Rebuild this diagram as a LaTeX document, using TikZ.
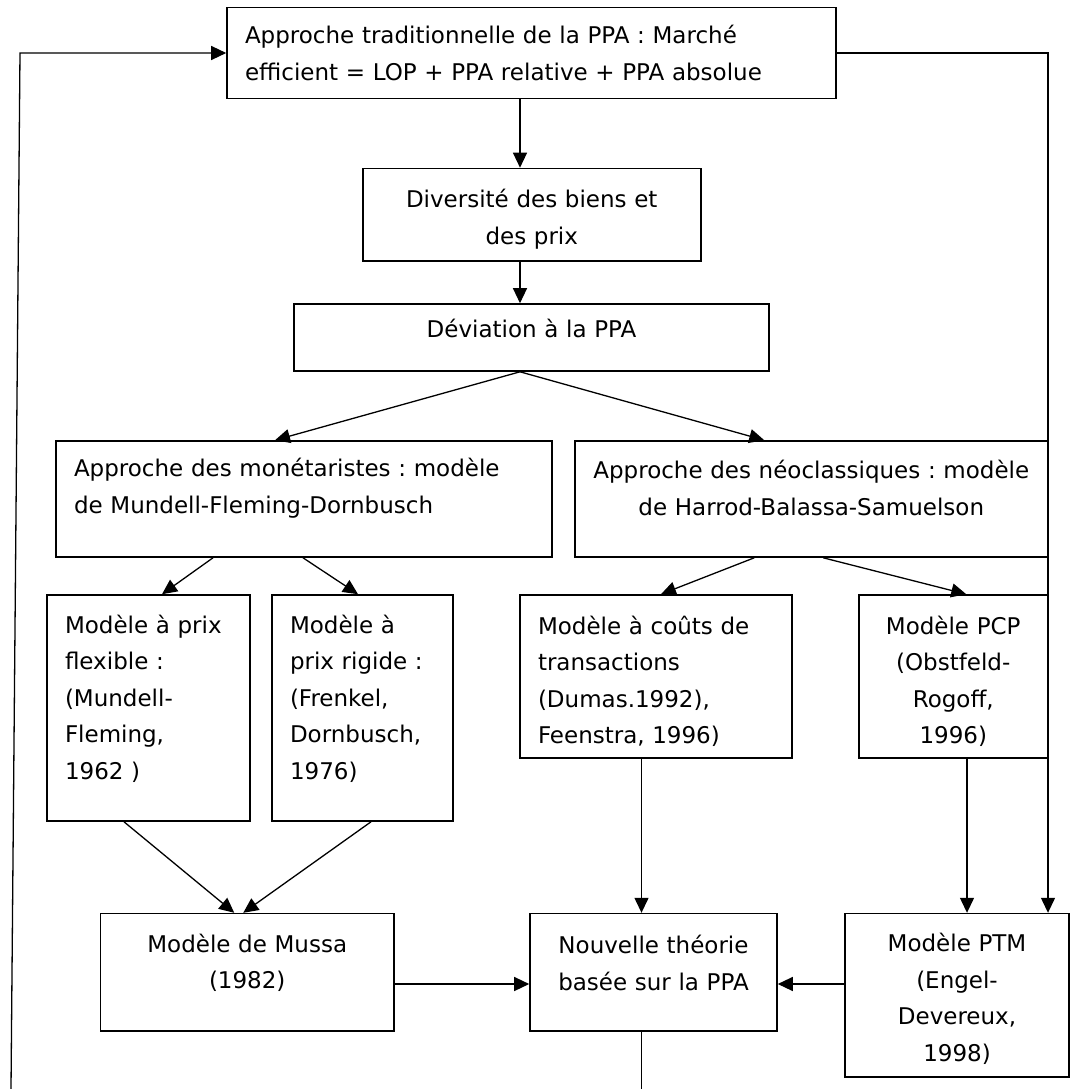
\documentclass[tikz,border=0pt]{standalone}
\usepackage{fontspec}
\setmainfont{DejaVu Sans}
\frenchspacing
\usetikzlibrary{arrows.meta}
\tikzset {
  >={Triangle[length=15pt,width=14pt]},
  every node/.style={font=\fontsize{23}{36.5}\selectfont},
  box/.style={draw, line width=1.6pt, inner xsep=18pt, inner ysep=0pt},
  mid/.style={box, align=center, inner xsep=4pt},
  lift/.style={execute at end node={\par\vspace*{#1}}},
  link/.style={->, line width=1.3pt},
}

\begin{document}
\begin{tikzpicture}[x=1pt,y=-1pt]
  \useasboundingbox (0,0) rectangle (1070,1089);

  \node (trad) at (531.5,53)[box,align=left,text width=573pt,minimum height=91pt]
    {Approche traditionnelle de la PPA : Marché\\efficient = LOP + PPA relative + PPA absolue};
  \node (div) at (531.75,214.75)[mid,text width=330pt,minimum height=92.5pt,lift=-9pt]
    {Diversité des biens et\\des prix};
  \node (dev) at (531.5,337.5)[mid,text width=467pt,minimum height=67pt,lift=18pt]
    {Déviation à la PPA};

  \node (mon) at (304,499)[box,align=left,text width=460pt,minimum height=116pt,lift=22pt]
    {Approche des monétaristes : modèle\\de Mundell-Fleming-Dornbusch};
  \node (neo) at (811.25,499)[mid,text width=464.5pt,minimum height=116pt,lift=22pt]
    {Approche des néoclassiques : modèle\\de Harrod-Balassa-Samuelson};

  \node (flex) at (148.5,708)[box,align=left,text width=167pt,minimum height=226pt,lift=19pt]
    {Modèle à prix\\flexible :\\(Mundell-\\Fleming,\\1962 )};
  \node (rig) at (362.5,708)[box,align=left,text width=145pt,minimum height=226pt,lift=19pt]
    {Modèle à\\prix rigide :\\(Frenkel,\\Dornbusch,\\1976)};
  \node (cout) at (656,676.5)[box,align=left,text width=236pt,minimum height=163pt,lift=-10pt]
    {Modèle à coûts de\\transactions\\(Dumas.1992),\\Feenstra, 1996)};
  \node (pcp) at (953.25,676.5)[mid,text width=180.5pt,minimum height=163pt,lift=-10pt]
    {Modèle PCP\\(Obstfeld-\\Rogoff,\\1996)};

  \node (mussa) at (247.25,972.3)[mid,text width=285.5pt,minimum height=117.4pt,lift=19pt]
    {Modèle de Mussa\\(1982)};
  \node (nouv) at (653.5,972.3)[mid,text width=239pt,minimum height=117.4pt,lift=19pt]
    {Nouvelle théorie\\basée sur la PPA};
  \node (ptm) at (957,995.3)[mid,text width=216pt,minimum height=163.4pt,lift=-7pt]
    {Modèle PTM\\(Engel-\\Devereux,\\1998)};

  % points the connectors run through
  \coordinate (spine) at (520,0);
  \coordinate (drop) at (641.5,1089);
  \coordinate (pcpdown) at (967,0);
  \coordinate (across) at (0,984);
  \coordinate (loopin) at (11,1089);
  \coordinate (loopturn) at (20,53);
  \coordinate (rturn) at (1048,53);

  \draw[link] (trad.south -| spine) -- (div.north -| spine);
  \draw[link] (div.south -| spine) -- (dev.north -| spine);
  \draw[link] (dev.south -| spine) -- ([xshift=-29pt]mon.north);
  \draw[link] (dev.south -| spine) -- ([xshift=-47pt]neo.north);

  \draw[link] ([xshift=-91pt]mon.south) -- ([xshift=13.5pt]flex.north);
  \draw[link] ([xshift=-1pt]mon.south) -- ([xshift=-4.5pt]rig.north);
  \draw[link] ([xshift=-57pt]neo.south) -- ([xshift=5pt]cout.north);
  \draw[link] ([xshift=12pt]neo.south) -- ([xshift=13pt]pcp.north);

  \draw[link] ([xshift=-24.5pt]flex.south) -- ([xshift=-13pt]mussa.north);
  \draw[link] ([xshift=8.5pt]rig.south) -- ([xshift=-4pt]mussa.north);
  \draw[link] (cout.south -| drop) -- (nouv.north -| drop);
  \draw[link] (pcp.south -| pcpdown) -- (ptm.north -| pcpdown);

  \draw[link] (mussa.east |- across) -- (nouv.west |- across);
  \draw[link] (ptm.west |- across) -- (nouv.east |- across);
  \draw[line width=1.3pt] (nouv.south -| drop) -- (drop);

  % feedback lines
  \draw[link] (loopin) -- (loopturn) -- (trad.west);
  \draw[link] (trad.east) -- (rturn) -- (ptm.north -| rturn);
\end{tikzpicture}
\end{document}
